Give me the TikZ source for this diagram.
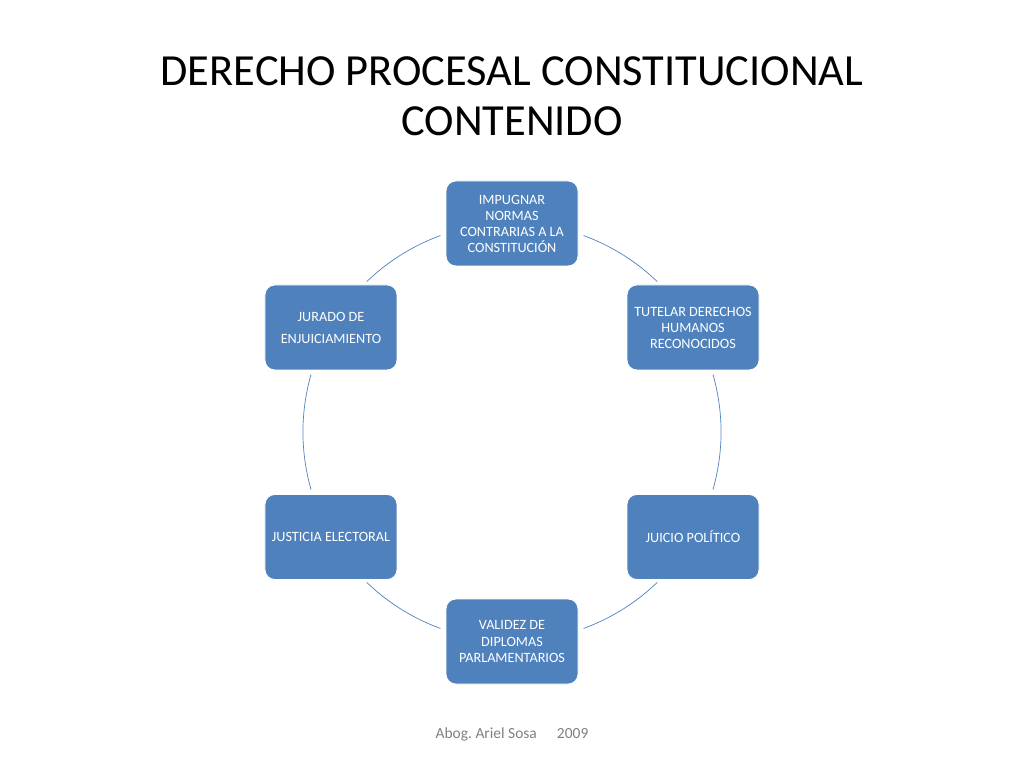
\documentclass[tikz,border=0pt]{standalone}
\usepackage{fontspec}
\setmainfont{Carlito}
\usetikzlibrary{positioning}
\definecolor{cblue}{HTML}{4F81BD}
\definecolor{cgrey}{HTML}{808080}
\tikzset{
  every picture/.style={line width=0.6pt},
  item/.style={draw=white, fill=cblue, text=white, rounded corners=7pt, align=center,
    minimum width=132*0.025cm, minimum height=85*0.025cm, inner sep=1pt,
    font=\fontsize{10.1}{11.4}\selectfont},
  ring/.style={draw=cblue, line width=0.5pt},
  title/.style={font=\fontsize{31.6}{35.6}\selectfont, align=center},
  note/.style={font=\fontsize{11}{12}\selectfont, text=cgrey},
}

\begin{document}
\frenchspacing
\begin{tikzpicture}[x=0.025cm, y=0.025cm]
  \useasboundingbox (-512,-336) rectangle (512,432);
  \coordinate (c) at (0,0);
  % ring behind the boxes
  \foreach \a/\b in {70/46, 16/-16, -46/-70, -110/-134, -164/-196, 134/110}
    \draw[ring] (c) ++(\a:5.225cm) arc (\a:\b:5.225cm);
  \node[item] (impugnar) at (0,208.5) {IMPUGNAR\\NORMAS\\CONTRARIAS A LA\\CONSTITUCIÓN};
  \node[item] (tutelar) at (181,104.5) {TUTELAR DERECHOS\\HUMANOS\\RECONOCIDOS};
  \node[item] (juicio) at (181,-105) {JUICIO POLÍTICO};
  \node[item] (validez) at (0,-209.5) {VALIDEZ DE\\DIPLOMAS\\PARLAMENTARIOS};
  \node[item] (justicia) at (-181,-105) {JUSTICIA ELECTORAL};
  \node[item] (jurado) at (-181,104.5) {JURADO DE\\[4.3pt]ENJUICIAMIENTO};
  \node[title] (titulo) at (0,336) {DERECHO PROCESAL CONSTITUCIONAL\\CONTENIDO};
  \node[note] (autor) at (0,-302) {Abog. Ariel Sosa\hspace{1.3em}2009};
\end{tikzpicture}
\end{document}
